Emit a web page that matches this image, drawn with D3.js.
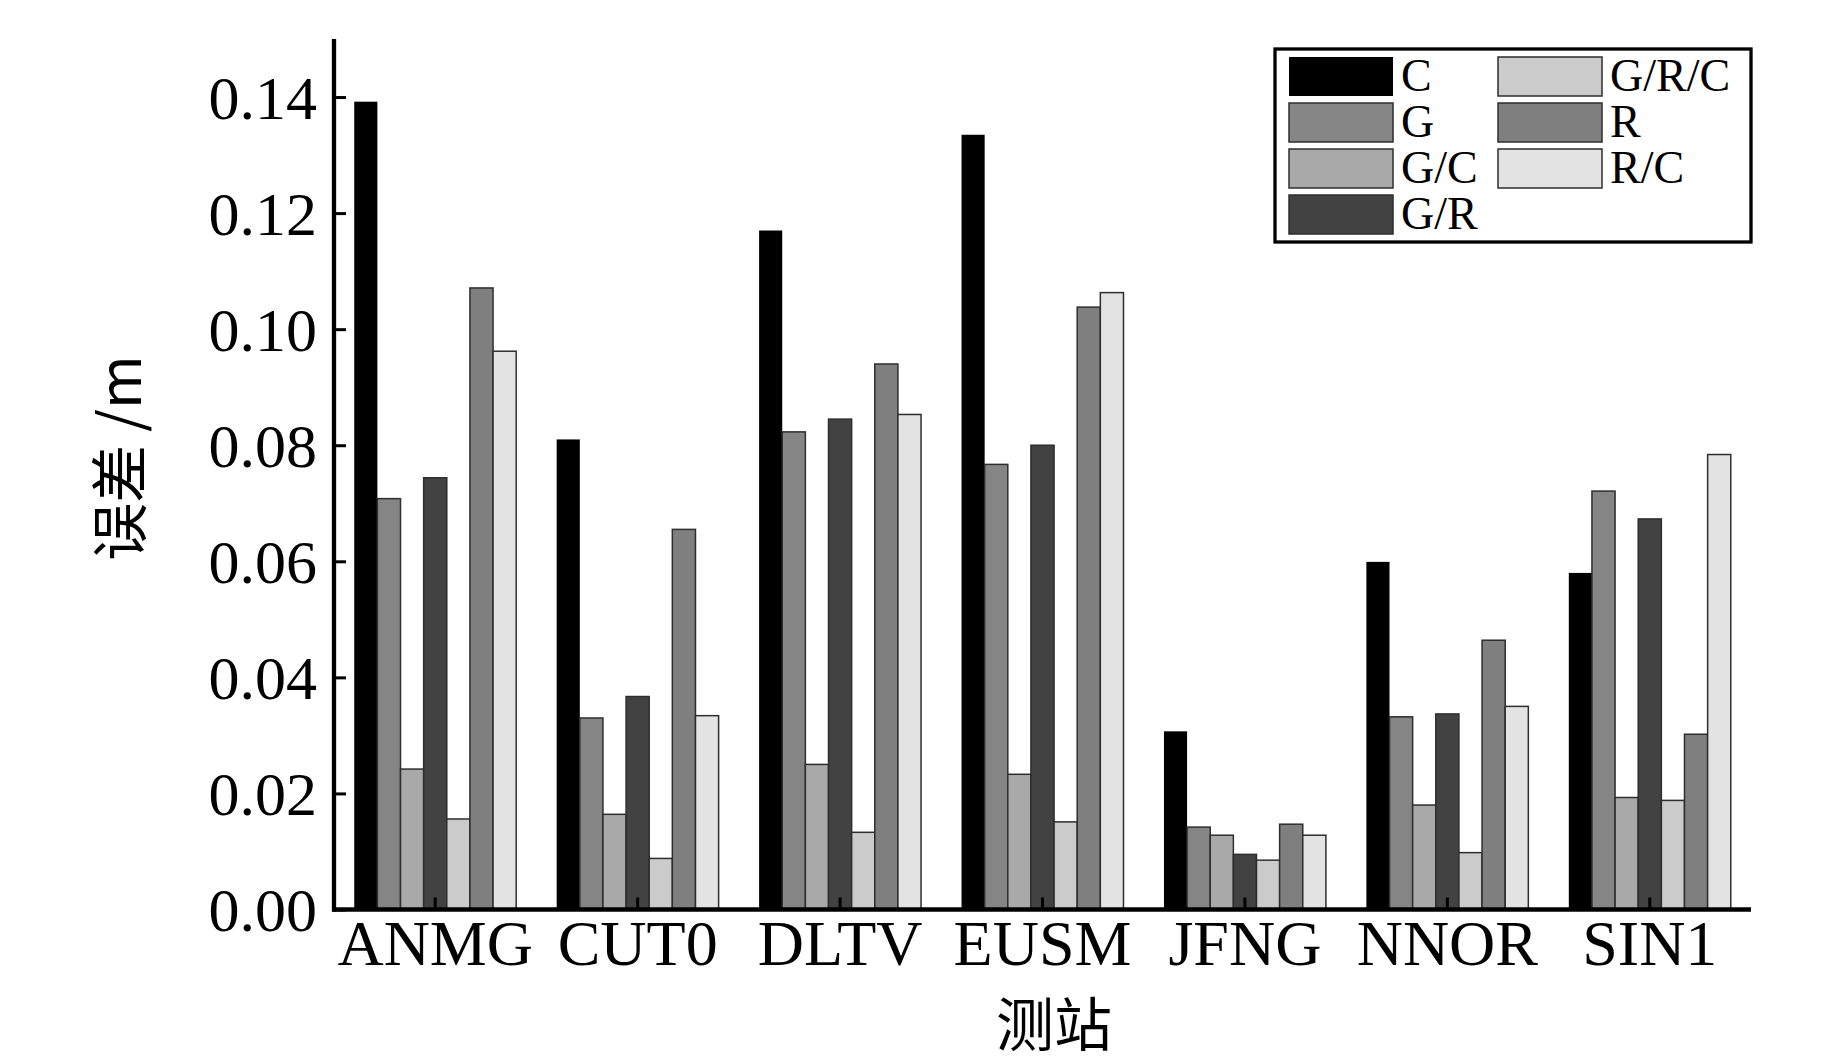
<!DOCTYPE html>
<html>
<head>
<meta charset="utf-8">
<script src="https://cdn.jsdelivr.net/npm/d3@7"></script>
<style>
  html, body { margin: 0; padding: 0; background: #fff; }
  svg { display: block; }
</style>
</head>
<body>
<svg id="chart" width="1843" height="1063"></svg>
<script>
const categories = ["ANMG", "CUT0", "DLTV", "EUSM", "JFNG", "NNOR", "SIN1"];
const seriesNames = ["C", "G", "G/C", "G/R", "G/R/C", "R", "R/C"];
const valuesC    = [0.1392, 0.0810, 0.1170, 0.1335, 0.0307, 0.0599, 0.0580];
const valuesG    = [0.0708, 0.0330, 0.0823, 0.0767, 0.0142, 0.0332, 0.0721];
const valuesGC   = [0.0242, 0.0164, 0.0250, 0.0233, 0.0128, 0.0180, 0.0193];
const valuesGR   = [0.0744, 0.0367, 0.0845, 0.0800, 0.0095, 0.0337, 0.0673];
const valuesGRC  = [0.0156, 0.0088, 0.0133, 0.0151, 0.0085, 0.0098, 0.0188];
const valuesR    = [0.1071, 0.0655, 0.0940, 0.1038, 0.0147, 0.0464, 0.0302];
const valuesRC   = [0.0962, 0.0334, 0.0853, 0.1063, 0.0128, 0.0350, 0.0784];
const yTicks = [0.00, 0.02, 0.04, 0.06, 0.08, 0.10, 0.12, 0.14];
const yLabel = "误差 /m";
const xLabel = "测站";

const seriesValues = [valuesC, valuesG, valuesGC, valuesGR, valuesGRC, valuesR, valuesRC];
const colors = ["#000000", "#858585", "#a9a9a9", "#424242", "#cbcbcb", "#7f7f7f", "#e3e3e3"];

const svg = d3.select("#chart");
const plotL = 334, plotR = 1751, plotT = 39, plotB = 909.5;
const serif = "'Liberation Serif', 'Times New Roman', serif";

const x0 = d3.scaleBand().domain(categories).range([plotL, plotR]).paddingInner(0.2).paddingOuter(0.1);
const x1 = d3.scaleBand().domain(seriesNames).range([0, x0.bandwidth()]);
const y = d3.scaleLinear().domain([0, 0.15]).range([plotB, plotT]);

// bars
const data = [];
categories.forEach((c, i) => {
  seriesNames.forEach((s, j) => data.push({cat: c, ser: s, v: seriesValues[j][i], j}));
});
svg.append("g").selectAll("rect").data(data).join("rect")
  .attr("x", d => x0(d.cat) + x1(d.ser))
  .attr("y", d => y(d.v))
  .attr("width", x1.bandwidth())
  .attr("height", d => y(0) - y(d.v))
  .attr("fill", d => colors[d.j])
  .attr("stroke", d => d.j === 0 ? "none" : "#2e2e2e")
  .attr("stroke-width", 1.5);

// y axis
const yAxis = d3.axisLeft(y).tickValues(yTicks).tickFormat(d3.format(".2f")).tickSize(-12).tickPadding(17);
const gy = svg.append("g").attr("transform", `translate(${plotL},0)`).call(yAxis);
gy.select(".domain").remove();
gy.selectAll(".tick line").attr("stroke", "#000").attr("stroke-width", 3);
gy.selectAll(".tick text").attr("font-family", serif).attr("font-size", 62).attr("fill", "#000").attr("dy", "0.34em");
svg.append("line").attr("x1", plotL).attr("x2", plotL).attr("y1", plotT).attr("y2", plotB + 2)
  .attr("stroke", "#000").attr("stroke-width", 4.3);

// x axis
const xAxis = d3.axisBottom(x0).tickSize(-12).tickPadding(10);
const gx = svg.append("g").attr("transform", `translate(0,${plotB})`).call(xAxis);
gx.select(".domain").remove();
gx.selectAll(".tick line").attr("stroke", "#000").attr("stroke-width", 3);
gx.selectAll(".tick text").attr("font-family", serif).attr("font-size", 64).attr("fill", "#000").attr("dy", "0.71em");
svg.append("line").attr("x1", plotL - 2).attr("x2", plotR).attr("y1", plotB).attr("y2", plotB)
  .attr("stroke", "#000").attr("stroke-width", 4.3);

// axis titles
svg.append("text").attr("transform", "translate(141,458) rotate(-90)")
  .attr("text-anchor", "middle")
  .attr("font-family", "'Noto Sans CJK SC', sans-serif").attr("font-size", 58).attr("fill", "#000")
  .text(yLabel);
svg.append("text").attr("x", 1054).attr("y", 1046)
  .attr("text-anchor", "middle")
  .attr("font-family", "'Noto Sans CJK SC', sans-serif").attr("font-size", 58).attr("fill", "#000")
  .text(xLabel);

// legend
const lg = svg.append("g");
lg.append("rect").attr("x", 1275).attr("y", 49).attr("width", 476).attr("height", 193)
  .attr("fill", "#fff").attr("stroke", "#000").attr("stroke-width", 3.3);
const colX = [1289, 1498];
seriesNames.forEach((s, j) => {
  const col = j < 4 ? 0 : 1;
  const row = j < 4 ? j : j - 4;
  const yy = 57 + row * 46;
  lg.append("rect").attr("x", colX[col]).attr("y", yy).attr("width", 104).attr("height", 39)
    .attr("fill", colors[j]).attr("stroke", j === 0 ? "none" : "#2e2e2e").attr("stroke-width", 1.5);
  lg.append("text").attr("x", colX[col] + 112).attr("y", yy + 34)
    .attr("font-family", serif).attr("font-size", 46).attr("fill", "#000").text(s);
});
</script>
</body>
</html>
